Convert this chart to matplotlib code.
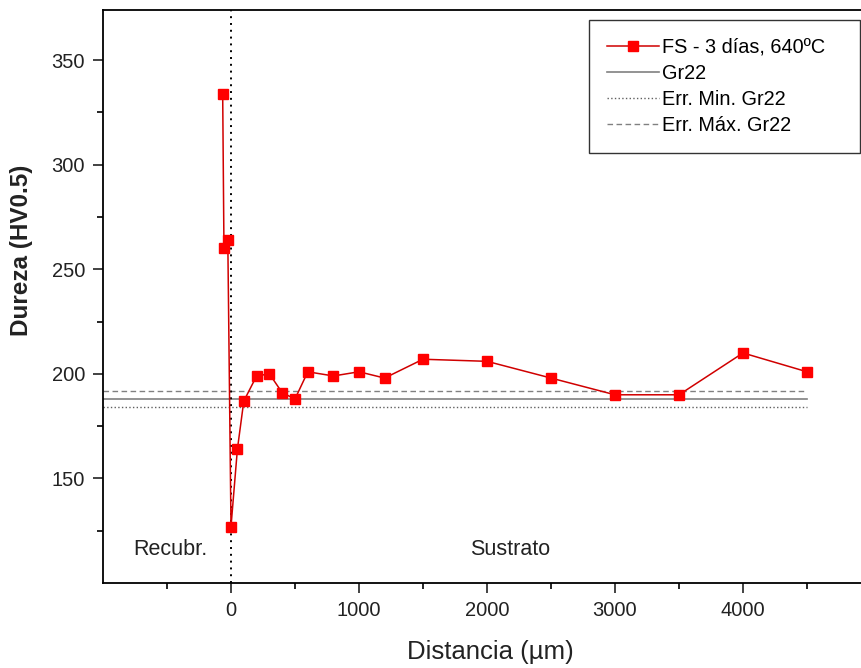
import matplotlib.pyplot as plt
import numpy as np

plt.rcParams['font.family'] = ['Liberation Sans', 'DejaVu Sans']

# hardness profile
distancia = [-65, -55, -25, 0, 50, 100, 200, 300, 400, 500, 600, 800, 1000,
             1200, 1500, 2000, 2500, 3000, 3500, 4000, 4500]
dureza = [334, 260, 264, 127, 164, 187, 199, 200, 191, 188, 201, 199, 201,
          198, 207, 206, 198, 190, 190, 210, 201]

# reference Gr22
gr22_x = [-1000, 4500]
gr22 = 188
gr22_min = 184
gr22_max = 192

fig = plt.figure(figsize=(8.61, 6.68), dpi=100)
ax = fig.add_axes([103/861, 85/668, 768/861, 573/668])

ax.plot(distancia, dureza, color='#d00000', lw=1.1, marker='s', ms=6.5,
        mfc='#ff0000', mec='#ff0000', label='FS - 3 días, 640ºC', zorder=5)
ax.plot(gr22_x, [gr22, gr22], color='#808080', lw=1.2, label='Gr22')
ax.plot(gr22_x, [gr22_min, gr22_min], color='#606060', lw=1.0, ls=':',
        label='Err. Min. Gr22')
ax.plot(gr22_x, [gr22_max, gr22_max], color='#808080', lw=1.0, ls=(0, (4, 2.5)),
        label='Err. Máx. Gr22')
ax.axvline(0, color='black', lw=1.4, ls=(0, (1, 2.5)), zorder=4)

ax.text(-475, 116, 'Recubr.', fontsize=15.5, color='#222222', ha='center', va='center')
ax.text(2180, 116, 'Sustrato', fontsize=15.5, color='#222222', ha='center', va='center')

ax.set_xlim(-1000, 5000)
ax.set_ylim(100, 374)
ax.set_xticks([0, 1000, 2000, 3000, 4000])
ax.set_xticks(np.arange(-500, 5000, 1000), minor=True)
ax.set_yticks([150, 200, 250, 300, 350])
ax.set_yticks([125, 175, 225, 275, 325], minor=True)
ax.tick_params(which='major', direction='out', length=7, width=1.2, labelsize=14.5,
               colors='#222222', pad=6)
ax.tick_params(which='minor', direction='out', length=4.5, width=1.2)
for s in ax.spines.values():
    s.set_linewidth(1.3)
ax.spines['right'].set_visible(False)

ax.set_xlabel('Distancia (µm)', fontsize=18.5, color='#222222')
ax.set_ylabel('Dureza (HV0.5)', fontsize=17.5, fontweight='bold', color='#222222')
ax.xaxis.set_label_coords(0.504, -0.0995)
ax.yaxis.set_label_coords(-0.091, 0.581)

leg = ax.legend(loc='upper left', bbox_to_anchor=(486/768, 0, 271/768, 1 - 10/573),
                mode='expand', fontsize=14.3, frameon=True, fancybox=False,
                handlelength=2.6, borderpad=0.9, labelspacing=0.36,
                handletextpad=0.2, borderaxespad=0)
leg.get_frame().set_edgecolor('black')
leg.get_frame().set_linewidth(1.0)

fig.savefig('out.png', dpi=100)
